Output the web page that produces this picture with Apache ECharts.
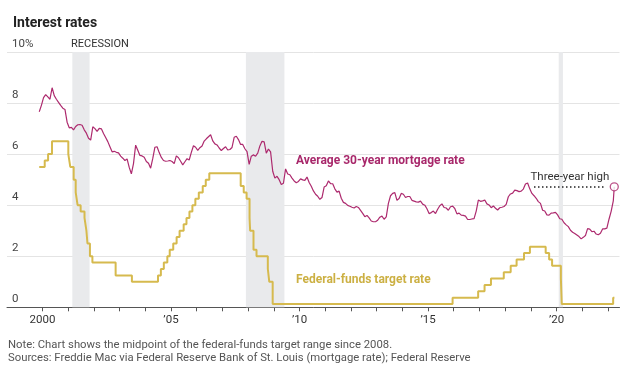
<!DOCTYPE html>
<html><head><meta charset="utf-8">
<script src="https://cdn.jsdelivr.net/npm/echarts@6/dist/echarts.min.js"></script>
<style>html,body{margin:0;padding:0;background:#fff}#c{width:640px;height:379px}</style>
</head><body><div id="c"></div>
<script>
// ---------- data ----------
const xTickYears = [2000,2001,2002,2003,2004,2005,2006,2007,2008,2009,2010,2011,2012,2013,2014,2015,2016,2017,2018,2019,2020,2021,2022];
const xLabelYears = [2000, 2005, 2010, 2015, 2020];
const xLabelText = ['2000', '\u201905', '\u201910', '\u201915', '\u201920'];
const yTicks = [0, 2, 4, 6, 8, 10];

// Average 30-year mortgage rate, monthly, starting Nov 1999
const mortgageStart = [1999, 11];
const mortgageMonthly = [
  7.66, 7.91,
  8.21, 8.33, 8.24, 8.15, 8.60, 8.29, 8.15, 8.03, 7.91, 7.80, 7.75, 7.25,
  7.03, 7.05, 6.95, 7.08, 7.15, 7.16, 7.13, 6.95, 6.82, 6.62, 6.55, 7.07,
  7.00, 6.89, 7.01, 6.99, 6.81, 6.65, 6.49, 6.29, 6.09, 6.11, 6.07, 6.05,
  5.92, 5.84, 5.75, 5.81, 5.48, 5.23, 5.63, 6.35, 6.15, 5.95, 5.93, 5.88,
  5.71, 5.64, 5.45, 5.83, 6.27, 6.29, 6.06, 5.87, 5.75, 5.72, 5.73, 5.75,
  5.71, 5.63, 5.93, 5.86, 5.72, 5.58, 5.70, 5.82, 5.77, 6.07, 6.33, 6.27,
  6.15, 6.25, 6.32, 6.51, 6.60, 6.68, 6.76, 6.52, 6.40, 6.36, 6.24, 6.14,
  6.22, 6.29, 6.16, 6.18, 6.26, 6.66, 6.70, 6.57, 6.38, 6.38, 6.21, 6.10,
  5.60, 5.92, 5.97, 5.92, 6.04, 6.32, 6.50, 6.48, 6.04, 6.20, 6.09, 5.33,
  5.06, 5.13, 5.00, 4.81, 4.86, 5.42, 5.22, 5.19, 5.06, 4.95, 4.88, 4.93,
  5.03, 4.99, 4.97, 5.10, 4.89, 4.74, 4.56, 4.43, 4.35, 4.23, 4.30, 4.71,
  4.76, 4.95, 4.84, 4.84, 4.64, 4.51, 4.55, 4.27, 4.11, 4.07, 3.99, 3.96,
  3.92, 3.89, 3.95, 3.91, 3.80, 3.68, 3.55, 3.60, 3.50, 3.38, 3.35, 3.35,
  3.41, 3.53, 3.57, 3.45, 3.54, 4.07, 4.37, 4.46, 4.49, 4.19, 4.26, 4.46,
  4.43, 4.30, 4.34, 4.34, 4.19, 4.16, 4.13, 4.12, 4.16, 4.04, 4.00, 3.86,
  3.67, 3.71, 3.77, 3.67, 3.84, 3.98, 4.05, 3.91, 3.89, 3.80, 3.94, 3.96,
  3.87, 3.66, 3.69, 3.61, 3.60, 3.57, 3.44, 3.44, 3.46, 3.47, 3.77, 4.20,
  4.15, 4.17, 4.20, 4.05, 4.01, 3.90, 3.97, 3.88, 3.81, 3.90, 3.92, 3.95,
  4.03, 4.33, 4.44, 4.47, 4.59, 4.57, 4.53, 4.55, 4.63, 4.83, 4.87, 4.64,
  4.46, 4.37, 4.27, 4.14, 4.07, 3.80, 3.77, 3.62, 3.61, 3.69, 3.70, 3.72,
  3.62, 3.47, 3.45, 3.31, 3.23, 3.16, 3.02, 2.94, 2.89, 2.83, 2.77, 2.68,
  2.74, 2.81, 3.08, 3.06, 2.96, 2.98, 2.87, 2.84, 2.90, 3.07, 3.07, 3.10,
  3.45, 3.76, 4.17
];
const mortgageLast = ['2022-04-01', 4.72];

// Federal-funds target rate (midpoint of range since 2008)
const fedDates = ['1999-11-16','2000-02-02','2000-03-21','2000-05-16','2001-01-03','2001-01-31','2001-03-20','2001-04-18','2001-05-15','2001-06-27','2001-08-21','2001-09-17','2001-10-02','2001-11-06','2001-12-11','2002-11-06','2003-06-25','2004-06-30','2004-08-10','2004-09-21','2004-11-10','2004-12-14','2005-02-02','2005-03-22','2005-05-03','2005-06-30','2005-08-09','2005-09-20','2005-11-01','2005-12-13','2006-01-31','2006-03-28','2006-05-10','2006-06-29','2007-09-18','2007-10-31','2007-12-11','2008-01-22','2008-01-30','2008-03-18','2008-04-30','2008-10-08','2008-10-29','2008-12-16','2015-12-16','2016-12-14','2017-03-15','2017-06-14','2017-12-13','2018-03-21','2018-06-13','2018-09-26','2018-12-19','2019-07-31','2019-09-18','2019-10-30','2020-03-03','2020-03-15','2022-03-16','2022-04-03'];
const fedRates = [5.5,5.75,6.0,6.5,6.0,5.5,5.0,4.5,4.0,3.75,3.5,3.0,2.5,2.0,1.75,1.25,1.0,1.25,1.5,1.75,2.0,2.25,2.5,2.75,3.0,3.25,3.5,3.75,4.0,4.25,4.5,4.75,5.0,5.25,4.75,4.5,4.25,3.5,3.0,2.25,2.0,1.5,1.0,0.125,0.375,0.625,0.875,1.125,1.375,1.625,1.875,2.125,2.375,2.125,1.875,1.625,1.125,0.125,0.375,0.375];

const recessions = [['2001-03-01','2001-11-01'],['2007-12-01','2009-06-01'],['2020-02-01','2020-04-01']];
const highValue = 4.72;
const highLineFrom = '2019-02-15';
const highLineTo = '2021-12-01';

// ---------- helpers ----------
function dec(s){
  const d = new Date(s + 'T00:00:00Z');
  const y = d.getUTCFullYear();
  const start = Date.UTC(y,0,1), end = Date.UTC(y+1,0,1);
  return y + (d.getTime()-start)/(end-start);
}
const mortgageData = mortgageMonthly.map((v,i)=>{
  const m = mortgageStart[1]-1+i;
  return [mortgageStart[0] + (m+0.5)/12, v];
});
mortgageData.push([dec(mortgageLast[0]), mortgageLast[1]]);
const fedData = fedDates.map((d,i)=>[dec(d), fedRates[i]]);

const MAG = '#ad2a6e', GOLD = '#d6ba4e';
const FONT = 'Roboto';

const chart = echarts.init(document.getElementById('c'), null, {renderer:'canvas'});
chart.setOption({
  animation:false,
  backgroundColor:'#fff',
  textStyle:{fontFamily:FONT},
  title:{text:'Interest rates', left:8, top:11, textStyle:{fontFamily:FONT, fontSize:14, fontWeight:'bold', color:'#222'}},
  grid:{left:7, right:20.5, top:52, bottom:71.7, containLabel:false},
  xAxis:{
    type:'value', min:1998.62, max:2022.45,
    axisLine:{show:true, lineStyle:{color:'#555', width:1}},
    axisTick:{show:true, length:4, lineStyle:{color:'#555'}, customValues:xTickYears},
    axisLabel:{customValues:xLabelYears, margin:7, fontSize:11.5, color:'#333', fontFamily:FONT,
      formatter:v=>xLabelText[xLabelYears.indexOf(Math.round(v))]||''},
    splitLine:{show:false}
  },
  yAxis:{
    type:'value', min:0, max:10, interval:2,
    axisLine:{show:false}, axisTick:{show:false},
    axisLabel:{inside:true, margin:5, verticalAlign:'bottom', align:'left', fontSize:11.5, color:'#444', fontFamily:FONT,
      padding:[0,0,2,0], formatter:v=> v===10 ? '10%' : String(v)},
    splitLine:{lineStyle:{color:'#e4e4e4', width:1}}
  },
  series:[
    {type:'line', data:[], silent:true,
     markArea:{silent:true, itemStyle:{color:'#e9eaec'},
       data: recessions.map(r=>[{xAxis:dec(r[0])},{xAxis:dec(r[1])}])}},
    {type:'line', data:fedData, step:'end', showSymbol:false, symbol:'none',
     lineStyle:{color:GOLD, width:2}, z:3},
    {type:'line', data:mortgageData, showSymbol:false, symbol:'none',
     lineStyle:{color:MAG, width:1.2}, z:4},
    {type:'scatter', data:[[dec(mortgageLast[0]), mortgageLast[1]]], symbol:'circle', symbolSize:8,
     itemStyle:{color:'#fff', borderColor:MAG, borderWidth:1.3}, z:6,
     markLine:{silent:true, symbol:'none',
       lineStyle:{type:[1.5,2.5], color:'#222', width:1.5},
       label:{show:true, position:'insideMiddleTop', formatter:'Three-year high', color:'#333', fontSize:11.5, fontFamily:FONT, distance:4},
       data:[[{coord:[dec(highLineFrom), highValue]},{coord:[dec(highLineTo), highValue]}]]}}
  ],
  graphic:[
    {type:'text', left:71, top:39, style:{text:'RECESSION', fontSize:11, fontFamily:FONT, fill:'#333'}},
    {type:'text', left:296, top:155, style:{text:'Average 30-year mortgage rate', fontSize:12, fontWeight:'bold', fontFamily:FONT, fill:'#a8286b'}},
    {type:'text', left:296, top:274, style:{text:'Federal-funds target rate', fontSize:12, fontWeight:'bold', fontFamily:FONT, fill:'#ccb043'}},
    {type:'text', left:8, top:340, style:{text:'Note: Chart shows the midpoint of the federal-funds target range since 2008.', fontSize:11.3, fontFamily:FONT, fill:'#555'}},
    {type:'text', left:8, top:353, style:{text:'Sources: Freddie Mac via Federal Reserve Bank of St. Louis (mortgage rate); Federal Reserve', fontSize:11.3, fontFamily:FONT, fill:'#555'}}
  ]
});
</script></body></html>
